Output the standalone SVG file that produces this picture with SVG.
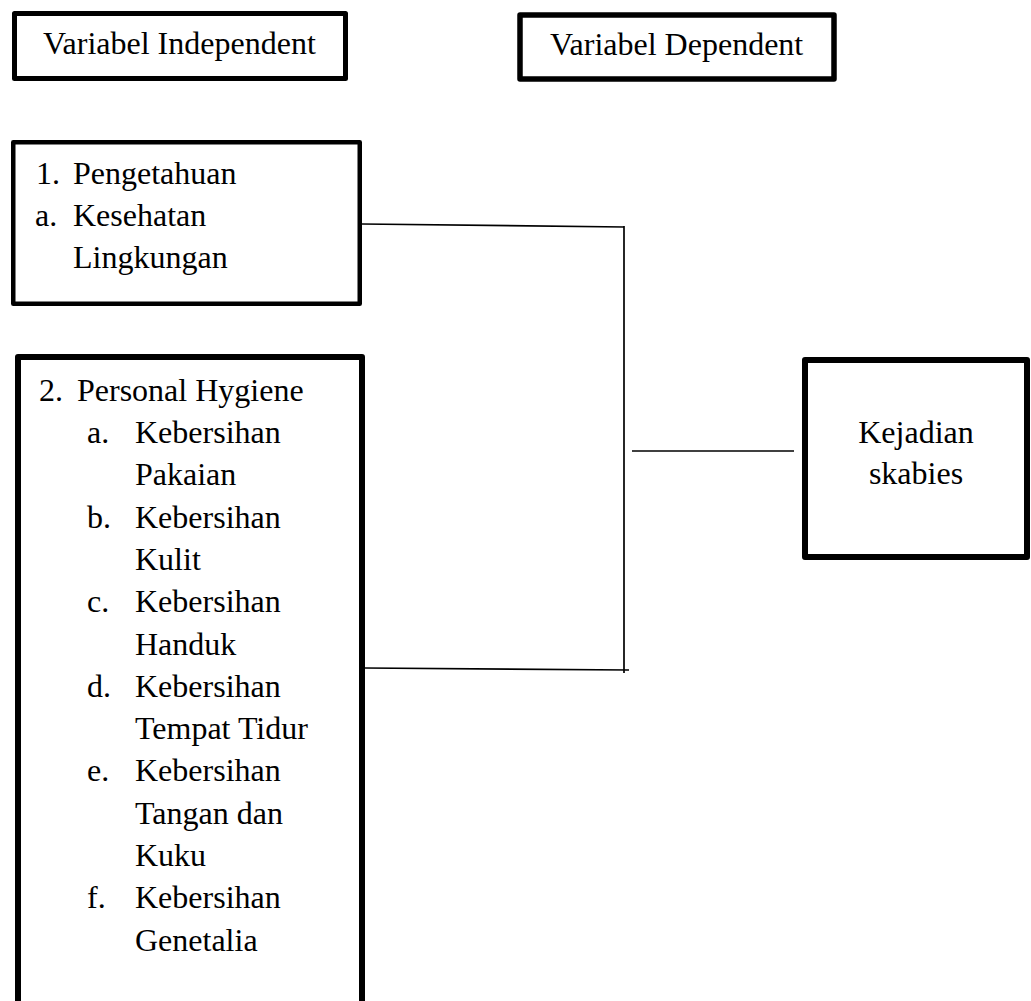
<svg xmlns="http://www.w3.org/2000/svg" width="1031" height="1001" viewBox="0 0 1031 1001">
<style>
.box{fill:#fff;stroke:#000;stroke-linejoin:round}
.t{font-family:"Liberation Serif","Times New Roman",serif;font-size:32px;fill:#000}
.c{fill:none;stroke:#000;stroke-width:1.7}
</style>
<rect width="1031" height="1001" fill="#fff"/>
<g id="connectors">
<line class="c" x1="362" y1="224" x2="624" y2="227"/>
<line class="c" x1="624" y1="226" x2="624" y2="673" stroke-width="2.2"/>
<line class="c" x1="365" y1="668" x2="629" y2="670"/>
<line class="c" x1="632" y1="451" x2="794" y2="451" stroke-width="2"/>
</g>
<g id="var-independent">
<rect class="box" x="14.5" y="13.5" width="331" height="65" stroke-width="5"/>
<text class="t" x="43" y="54">Variabel Independent</text>
</g>
<g id="var-dependent">
<rect class="box" x="520" y="15" width="314" height="64" stroke-width="5.5"/>
<text class="t" x="550" y="55">Variabel Dependent</text>
</g>
<g id="pengetahuan">
<rect class="box" x="13.25" y="142.25" width="346.5" height="161.5" stroke-width="4.5"/>
<text class="t" x="36" y="184">1.</text>
<text class="t" x="73" y="184">Pengetahuan</text>
<text class="t" x="35" y="226">a.</text>
<text class="t" x="73" y="226">Kesehatan</text>
<text class="t" x="73" y="268">Lingkungan</text>
</g>
<g id="personal-hygiene">
<rect class="box" x="18" y="357" width="344" height="660" stroke-width="6"/>
<text class="t" x="39" y="401">2.</text>
<text class="t" x="77" y="401">Personal Hygiene</text>
<text class="t" x="87" y="443">a.</text>
<text class="t" x="135" y="443">Kebersihan</text>
<text class="t" x="135" y="485">Pakaian</text>
<text class="t" x="87" y="528">b.</text>
<text class="t" x="135" y="528">Kebersihan</text>
<text class="t" x="135" y="570">Kulit</text>
<text class="t" x="87" y="612">c.</text>
<text class="t" x="135" y="612">Kebersihan</text>
<text class="t" x="135" y="655">Handuk</text>
<text class="t" x="87" y="697">d.</text>
<text class="t" x="135" y="697">Kebersihan</text>
<text class="t" x="135" y="739">Tempat Tidur</text>
<text class="t" x="87" y="781">e.</text>
<text class="t" x="135" y="781">Kebersihan</text>
<text class="t" x="135" y="824">Tangan dan</text>
<text class="t" x="135" y="866">Kuku</text>
<text class="t" x="87" y="908">f.</text>
<text class="t" x="135" y="908">Kebersihan</text>
<text class="t" x="135" y="951">Genetalia</text>
</g>
<g id="kejadian-skabies">
<rect class="box" x="805" y="360" width="222" height="197" stroke-width="6"/>
<text class="t" x="916" y="443" text-anchor="middle">Kejadian</text>
<text class="t" x="916" y="484" text-anchor="middle">skabies</text>
</g>
</svg>
